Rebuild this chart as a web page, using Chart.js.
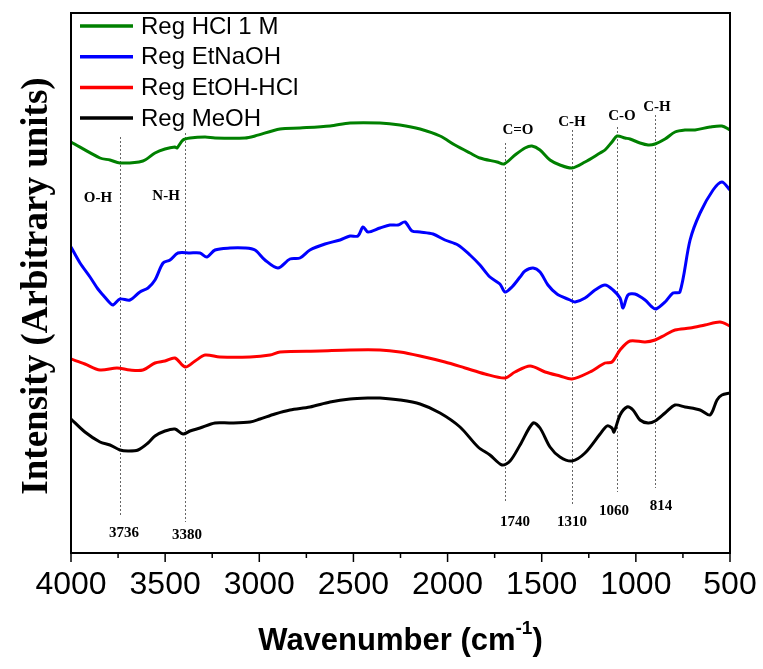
<!DOCTYPE html>
<html>
<head>
<meta charset="utf-8">
<script src="https://cdn.jsdelivr.net/npm/chart.js@4.4.0/dist/chart.umd.min.js"></script>
<style>
  body { margin: 0; background: #fff; }
</style>
</head>
<body>
<canvas id="ftir" width="763" height="669"></canvas>
<script>
// spectra (x = wavenumber, y = arbitrary intensity)
const hclWn  = [4000,3846,3793,3740,3618,3554,3501,3448,3437,3405,3368,3288,3235,3076,3023,2890,2784,2624,2518,2359,2253,2146,2040,1961,1881,1828,1737,1700,1642,1589,1552,1509,1456,1403,1339,1270,1190,1164,1127,1100,1058,1031,978,935,898,845,792,739,686,606,543,500];
const hclVal = [411,395,393,390,392,400,404,406,405,413,415,416,415,415,417,424,425,427,430,430,428,424,417,408,400,395,391,389,398,405,407,403,393,388,385,391,400,403,411,417,415,414,410,408,409,414,421,423,423,426,427,423];

const naohWn  = [4000,3952,3899,3857,3830,3793,3777,3740,3687,3634,3591,3554,3511,3474,3432,3368,3315,3278,3235,3156,3076,3023,2970,2901,2837,2784,2731,2651,2571,2518,2476,2449,2423,2359,2306,2263,2226,2189,2146,2077,2014,1945,1881,1828,1775,1722,1695,1658,1615,1589,1546,1509,1467,1419,1350,1323,1270,1217,1164,1121,1084,1068,1042,1005,951,914,893,845,803,766,712,659,590,543,500];
const naohVal = [306,290,276,264,258,250,248,254,253,261,265,273,290,293,300,300,300,296,303,305,305,303,293,285,294,295,303,309,313,317,317,326,321,325,328,328,331,322,321,319,313,308,298,288,276,269,261,266,276,282,285,281,268,259,253,251,255,263,268,263,255,245,258,259,253,246,244,251,260,261,313,340,363,371,363];

const etohWn  = [4000,3926,3846,3756,3687,3618,3554,3501,3448,3394,3341,3288,3209,3049,2943,2890,2678,2518,2359,2253,2146,2014,1907,1801,1695,1642,1562,1482,1403,1339,1244,1164,1127,1084,1031,951,898,845,792,712,633,553,500];
const etohVal = [194,189,183,185,183,183,190,192,195,186,192,198,196,196,198,201,202,203,203,201,197,191,185,179,175,181,187,181,177,174,181,190,191,203,212,211,213,218,223,225,228,231,227];

const meohWn  = [4000,3926,3846,3793,3740,3697,3644,3591,3554,3501,3448,3405,3368,3315,3235,3156,3049,2996,2917,2837,2731,2624,2518,2412,2359,2253,2146,2040,1934,1838,1775,1711,1668,1615,1546,1509,1456,1403,1339,1270,1190,1153,1127,1116,1084,1047,1015,978,935,898,845,792,739,659,606,569,543,500];
const meohVal = [134,121,111,108,103,102,103,110,117,122,124,119,122,125,130,130,131,134,139,143,146,151,154,155,155,153,149,140,126,106,98,88,92,108,130,125,106,96,92,100,119,127,125,121,138,146,143,133,130,132,140,148,146,143,138,153,158,160];

const seriesNames  = ['Reg HCl 1 M', 'Reg EtNaOH', 'Reg EtOH-HCl', 'Reg MeOH'];
const seriesColors = ['#008000', '#0000ff', '#ff0000', '#000000'];

// band marker lines
const markerWn     = [3742, 3392, 1695, 1339, 1100, 900];
const markerTop    = [416, 420, 410, 423, 426, 438];
const markerBottom = [36, 31, 50, 48, 61, 65];
const bandLabels   = ['O-H', 'N-H', 'C=O', 'C-H', 'C-O', 'C-H'];
const bandLabelWn  = [3857, 3495, 1626, 1339, 1074, 888];
const bandLabelY   = [355, 357, 423, 431, 437, 446];
const peakLabels   = ['3736', '3380', '1740', '1310', '1060', '814'];
const peakLabelWn  = [3718, 3384, 1642, 1339, 1116, 867];
const peakLabelY   = [20, 18, 31, 31, 42, 47];

const xTicks = [4000, 3500, 3000, 2500, 2000, 1500, 1000, 500];

function pts(wn, val) {
  return wn.map((w, i) => ({ x: w, y: val[i] }));
}

const allSeries = [[hclWn, hclVal], [naohWn, naohVal], [etohWn, etohVal], [meohWn, meohVal]];

const decor = {
  id: 'decor',
  beforeDatasetsDraw(chart) {
    const { ctx, scales: { x, y } } = chart;
    ctx.save();
    ctx.strokeStyle = '#666';
    ctx.lineWidth = 1;
    ctx.setLineDash([2, 2]);
    markerWn.forEach((w, i) => {
      const px = Math.round(x.getPixelForValue(w)) + 0.5;
      ctx.beginPath();
      ctx.moveTo(px, y.getPixelForValue(markerTop[i]));
      ctx.lineTo(px, y.getPixelForValue(markerBottom[i]));
      ctx.stroke();
    });
    ctx.restore();
  },
  afterDraw(chart) {
    const { ctx, chartArea: a, scales: { x, y } } = chart;
    ctx.save();

    // frame
    ctx.strokeStyle = '#000';
    ctx.lineWidth = 2;
    ctx.strokeRect(a.left, a.top, a.right - a.left, a.bottom - a.top);

    // ticks on the wavenumber axis
    ctx.lineWidth = 1.5;
    for (let w = 500; w <= 4000; w += 250) {
      const px = x.getPixelForValue(w);
      const len = w % 500 === 0 ? 9 : 5;
      ctx.beginPath();
      ctx.moveTo(px, a.bottom);
      ctx.lineTo(px, a.bottom + len);
      ctx.stroke();
    }

    // band and peak labels
    ctx.fillStyle = '#000';
    ctx.textAlign = 'center';
    ctx.textBaseline = 'middle';
    ctx.font = 'bold 15px "Liberation Serif", "Times New Roman", serif';
    bandLabels.forEach((t, i) => ctx.fillText(t, x.getPixelForValue(bandLabelWn[i]), y.getPixelForValue(bandLabelY[i])));
    peakLabels.forEach((t, i) => ctx.fillText(t, x.getPixelForValue(peakLabelWn[i]), y.getPixelForValue(peakLabelY[i])));

    // legend inside the plot
    ctx.textAlign = 'left';
    ctx.font = '24px "Liberation Sans", Arial, sans-serif';
    seriesNames.forEach((n, i) => {
      const cy = a.top + 13 + i * 30.7;
      ctx.strokeStyle = seriesColors[i];
      ctx.lineWidth = 3.5;
      ctx.beginPath();
      ctx.moveTo(a.left + 9, cy);
      ctx.lineTo(a.left + 62, cy);
      ctx.stroke();
      ctx.fillStyle = '#000';
      ctx.fillText(n, a.left + 70, cy + 1);
    });

    // axis titles
    ctx.font = 'bold 31px "Liberation Sans", Arial, sans-serif';
    ctx.textBaseline = 'middle';
    const main = 'Wavenumber (cm';
    const sup = '-1';
    const close = ')';
    const wMain = ctx.measureText(main).width;
    const wClose = ctx.measureText(close).width;
    ctx.font = 'bold 19px "Liberation Sans", Arial, sans-serif';
    const wSup = ctx.measureText(sup).width;
    const total = wMain + wSup + wClose;
    let sx = (a.left + a.right) / 2 - total / 2;
    const ty = 641;
    ctx.font = 'bold 31px "Liberation Sans", Arial, sans-serif';
    ctx.fillText(main, sx, ty);
    sx += wMain;
    ctx.font = 'bold 19px "Liberation Sans", Arial, sans-serif';
    ctx.fillText(sup, sx, ty - 12);
    sx += wSup;
    ctx.font = 'bold 31px "Liberation Sans", Arial, sans-serif';
    ctx.fillText(close, sx, ty);

    ctx.translate(37, 286);
    ctx.rotate(-Math.PI / 2);
    ctx.textAlign = 'center';
    ctx.font = 'bold 37px "Liberation Serif", "Times New Roman", serif';
    ctx.fillText('Intensity (Arbitrary units)', 0, 0);
    ctx.restore();
  }
};

new Chart(document.getElementById('ftir'), {
  type: 'line',
  data: {
    datasets: allSeries.map((s, i) => ({
      label: seriesNames[i],
      data: pts(s[0], s[1]),
      borderColor: seriesColors[i],
      borderWidth: 3,
      pointRadius: 0,
      tension: 0.3,
      fill: false
    }))
  },
  options: {
    responsive: false,
    animation: false,
    devicePixelRatio: 1,
    layout: { padding: { top: 13, right: 33, left: 0, bottom: 0 } },
    plugins: { legend: { display: false }, tooltip: { enabled: false } },
    scales: {
      x: {
        type: 'linear',
        reverse: true,
        min: 500,
        max: 4000,
        afterBuildTicks: (s) => { s.ticks = xTicks.map(v => ({ value: v })); },
        afterFit: (s) => { s.height = 116; s.paddingLeft = 0; s.paddingRight = 0; },
        grid: { display: false, drawTicks: false },
        border: { display: false },
        ticks: {
          padding: 13,
          color: '#000',
          maxRotation: 0,
          autoSkip: false,
          callback: (v) => String(v),
          font: { family: '"Liberation Sans", Arial, sans-serif', size: 32 }
        }
      },
      y: {
        min: 0,
        max: 540,
        afterFit: (s) => { s.width = 71; },
        grid: { display: false, drawTicks: false },
        border: { display: false },
        ticks: { display: false }
      }
    }
  },
  plugins: [decor]
});
</script>
</body>
</html>
